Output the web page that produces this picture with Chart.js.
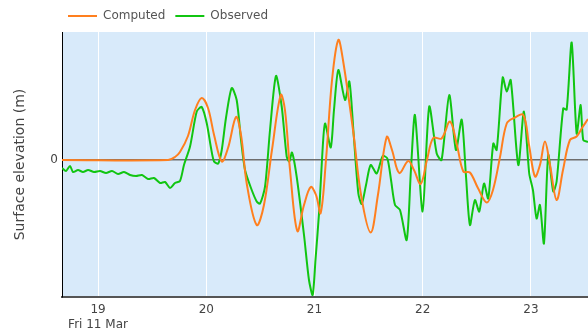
<!DOCTYPE html>
<html>
<head>
<meta charset="utf-8">
<script src="https://cdn.jsdelivr.net/npm/chart.js@4/dist/chart.umd.min.js"></script>
<style>
  html, body { margin: 0; padding: 0; background: #fff; }
  #wrap { width: 588px; height: 330px; }
</style>
</head>
<body>
<div id="wrap"><canvas id="tideChart"></canvas></div>
<script>
// Hours on Fri 11 Mar, elevations in metres
const xTicks = [19, 20, 21, 22, 23];
const dateLabel = 'Fri 11 Mar';

const computedHours = [18.667, 19.647, 19.711, 19.757, 19.831, 19.896, 19.958, 20.016, 20.072, 20.143,
  20.201, 20.275, 20.321, 20.376, 20.466, 20.533, 20.607, 20.688, 20.727, 20.774, 20.841, 20.903,
  20.965, 21.014, 21.057, 21.106, 21.162, 21.220, 21.263, 21.356, 21.430, 21.519, 21.586, 21.667,
  21.716, 21.783, 21.866, 21.919, 21.981, 22.039, 22.097, 22.174, 22.252, 22.316, 22.375, 22.436,
  22.510, 22.591, 22.649, 22.714, 22.776, 22.843, 22.929, 22.982, 23.037, 23.083, 23.129, 23.176,
  23.237, 23.296, 23.360, 23.422, 23.471, 23.527];
const computedElev = [0, 0, 0.06, 0.16, 0.48, 1.0, 1.24, 1.04, 0.5, -0.03,
  0.24, 0.86, 0.5, -0.5, -1.3, -0.9, 0.2, 1.3, 1.0, -0.2, -1.42, -0.9,
  -0.54, -0.7, -1.06, 0, 1.6, 2.4, 2.0, 0.6, -0.7, -1.45, -0.7, 0.46,
  0.2, -0.26, -0.02, -0.2, -0.48, 0, 0.44, 0.43, 0.77, 0.3, -0.23, -0.25,
  -0.56, -0.85, -0.6, 0.06, 0.73, 0.84, 0.9, 0.3, -0.33, -0.1, 0.37, -0.1,
  -0.8, -0.2, 0.4, 0.47, 0.64, 0.82];

const observedHours = [18.667, 18.704, 18.741, 18.769, 18.815, 18.861, 18.908, 18.963, 19.018, 19.074,
  19.129, 19.185, 19.240, 19.296, 19.351, 19.406, 19.462, 19.517, 19.573, 19.619, 19.665, 19.711,
  19.757, 19.794, 19.850, 19.912, 19.958, 20.004, 20.044, 20.072, 20.111, 20.143, 20.182, 20.235,
  20.281, 20.321, 20.358, 20.413, 20.466, 20.497, 20.543, 20.589, 20.644, 20.697, 20.743, 20.767,
  20.792, 20.835, 20.903, 20.949, 20.983, 21.009, 21.044, 21.069, 21.097, 21.150, 21.180, 21.220,
  21.282, 21.322, 21.359, 21.405, 21.436, 21.476, 21.519, 21.575, 21.630, 21.673, 21.707, 21.744,
  21.790, 21.852, 21.891, 21.928, 21.999, 22.060, 22.129, 22.174, 22.245, 22.307, 22.360, 22.399,
  22.436, 22.482, 22.522, 22.566, 22.605, 22.652, 22.683, 22.739, 22.776, 22.813, 22.883, 22.935,
  22.984, 23.018, 23.052, 23.083, 23.120, 23.160, 23.206, 23.237, 23.298, 23.330, 23.376, 23.422,
  23.459, 23.483, 23.527];
const observedElev = [-0.16, -0.22, -0.12, -0.24, -0.2, -0.24, -0.2, -0.24, -0.22, -0.26,
  -0.22, -0.28, -0.24, -0.3, -0.32, -0.3, -0.38, -0.36, -0.46, -0.44, -0.56, -0.46,
  -0.42, -0.1, 0.27, 0.97, 1.06, 0.74, 0.24, -0.03, -0.07, 0.2, 0.84, 1.44,
  1.2, 0.4, -0.2, -0.56, -0.83, -0.87, -0.53, 0.6, 1.68, 1.07, 0.07, -0.03,
  0.15, -0.33, -1.5, -2.4, -2.7, -2.0, -1.0, 0, 0.73, 0.25, 1.0, 1.8,
  1.2, 1.57, 0.6, -0.67, -0.88, -0.5, -0.1, -0.27, 0.08, 0.03, -0.4, -0.9,
  -1.0, -1.6, -0.2, 0.9, -1.03, 1.07, 0.13, 0, 1.3, 0.2, 0.81, -0.3,
  -1.3, -0.8, -1.03, -0.47, -0.77, 0.33, 0.2, 1.65, 1.37, 1.6, -0.1, 0.97,
  -0.27, -0.6, -1.17, -0.9, -1.67, 0.1, -0.63, -0.43, 1.03, 1.01, 2.35, 0.53,
  1.1, 0.4, 0.36];

const toPoints = (xs, ys) => xs.map((x, i) => ({ x, y: ys[i] }));

Chart.defaults.font.family = '"DejaVu Sans", Verdana, sans-serif';
Chart.defaults.font.size = 12;
Chart.defaults.color = '#444';

const plotBackground = {
  id: 'plotBackground',
  beforeDraw(chart) {
    const { ctx, chartArea: a } = chart;
    ctx.save();
    ctx.fillStyle = '#d8eafa';
    ctx.fillRect(a.left, a.top, a.right - a.left, a.bottom - a.top);
    ctx.restore();
  },
  afterLayout(chart) {
    // nudge the legend so it starts just inside the plot
    const lg = chart.legend;
    if (lg) {
      const w = lg.right - lg.left;
      lg.left = chart.chartArea.left - 4;
      lg.right = lg.left + w;
    }
  }
};

new Chart(document.getElementById('tideChart'), {
  type: 'line',
  data: {
    datasets: [
      {
        label: 'Computed',
        data: toPoints(computedHours, computedElev),
        borderColor: '#ff7f1e',
        backgroundColor: '#ff7f1e',
        borderWidth: 2,
        pointRadius: 0,
        tension: 0.35
      },
      {
        label: 'Observed',
        data: toPoints(observedHours, observedElev),
        borderColor: '#11c511',
        backgroundColor: '#11c511',
        borderWidth: 2,
        pointRadius: 0,
        tension: 0.25
      }
    ]
  },
  options: {
    responsive: true,
    maintainAspectRatio: false,
    animation: false,
    layout: { padding: 0 },
    plugins: {
      tooltip: { enabled: false },
      legend: {
        position: 'top',
        align: 'start',
        labels: {
          boxWidth: 29,
          boxHeight: 2,
          padding: 10,
          color: '#555',
          generateLabels(chart) {
            return Chart.defaults.plugins.legend.labels.generateLabels(chart)
              .map(l => ({ ...l, lineWidth: 0, fillStyle: l.strokeStyle }));
          }
        }
      }
    },
    scales: {
      x: {
        type: 'linear',
        min: 18.667,
        max: 23.527,
        afterBuildTicks(scale) { scale.ticks = xTicks.map(v => ({ value: v })); },
        afterFit(scale) { scale.height = 33; },
        ticks: {
          padding: 6,
          maxRotation: 0,
          callback: v => (v === xTicks[0] ? [String(v), dateLabel] : String(v))
        },
        grid: { color: '#ffffff', lineWidth: 1, drawTicks: false },
        border: { color: '#555', width: 2 }
      },
      y: {
        min: -2.74,
        max: 2.56,
        afterBuildTicks(scale) { scale.ticks = [{ value: 0 }]; },
        afterFit(scale) { scale.width = 62; },
        ticks: { padding: 4 },
        grid: { color: '#6d6d6d', lineWidth: 1.5, drawTicks: false },
        border: { color: '#000', width: 1 },
        title: {
          display: true,
          text: 'Surface elevation (m)',
          color: '#444',
          font: { size: 14 },
          padding: { top: 12, bottom: 0 }
        }
      }
    }
  },
  plugins: [plotBackground]
});
</script>
</body>
</html>
